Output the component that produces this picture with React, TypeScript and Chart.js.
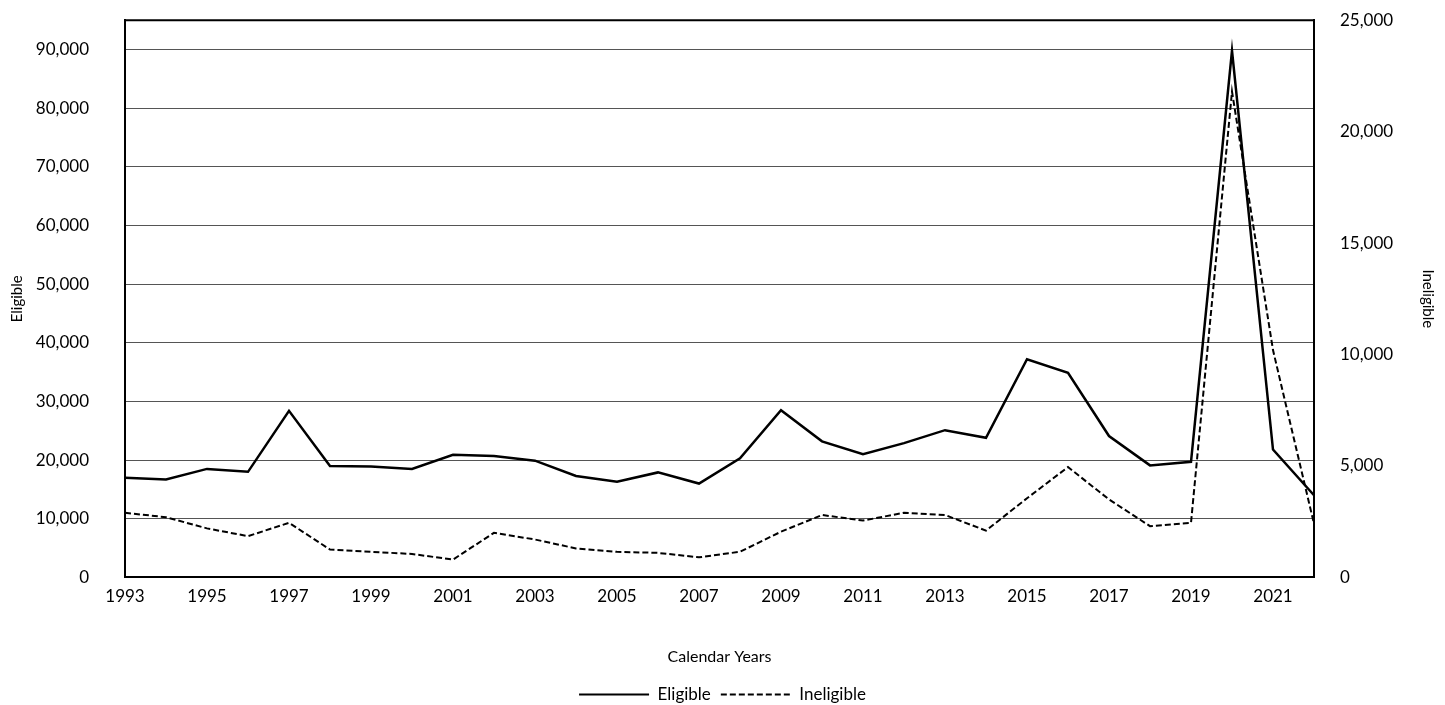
import React, { useEffect, useRef } from "react";
import { Chart, registerables } from "chart.js";
Chart.register(...registerables);

const years = Array.from({ length: 30 }, (_, i) => String(1993 + i));
const eligible = [17000, 16700, 18500, 18000, 28400, 19000, 18900, 18500, 20900, 20700, 19900, 17300, 16300, 17900, 16000, 20300, 28500, 23200, 21000, 22900, 25100, 23800, 37200, 34900, 24100, 19100, 19700, 89800, 21800, 14000];
const ineligible = [2900, 2700, 2200, 1850, 2450, 1250, 1150, 1050, 800, 2000, 1700, 1300, 1150, 1100, 900, 1150, 2050, 2800, 2550, 2900, 2800, 2100, 3550, 4950, 3500, 2300, 2450, 21800, 10200, 2400];
const leftTicks = [0, 10000, 20000, 30000, 40000, 50000, 60000, 70000, 80000, 90000];

export default function App() {
  const ref = useRef<HTMLCanvasElement>(null);
  useEffect(() => {
    const font = { family: "Lato", size: 16 };
    const c = new Chart(ref.current!, {
      type: "line",
      data: {
        labels: years,
        datasets: [
          { label: "Eligible", data: eligible, borderColor: "#000", borderWidth: 2.5, pointRadius: 0, yAxisID: "y", tension: 0 },
          { label: "Ineligible", data: ineligible, borderColor: "#000", borderWidth: 2, borderDash: [6, 3], pointRadius: 0, yAxisID: "y1", tension: 0 },
        ],
      },
      options: {
        animation: false,
        responsive: true,
        maintainAspectRatio: false,
        layout: { padding: { top: 0, left: 4, right: 4, bottom: 4 } },
        plugins: {
          legend: {
            position: "bottom",
            labels: {
              usePointStyle: true, pointStyle: "line", pointStyleWidth: 70, color: "#000", font: { family: "Lato", size: 17 }, padding: 10,
              generateLabels: (ch: any) => ch.data.datasets.map((d: any, i: number) => ({
                text: d.label, strokeStyle: "#000", fillStyle: "#000", lineWidth: 2, lineDash: d.borderDash || [],
                pointStyle: "line", datasetIndex: i, hidden: false, fontColor: "#000",
              })),
            },
          },
          tooltip: { enabled: false },
        },
        scales: {
          x: {
            offset: false,
            grid: { display: false, drawTicks: true, tickLength: 6, tickColor: "#000" },
            border: { color: "#000", width: 2 },
            ticks: { autoSkip: false, maxRotation: 0, color: "#000", font: { family: "Lato", size: 17 }, callback: (v: any, i: number) => (i % 2 === 0 ? years[i] : "") },
            title: { display: true, text: "Calendar Years", color: "#000", font, padding: { top: 37, bottom: 10 } },
          },
          y: {
            min: 0, max: 95000,
            afterBuildTicks: (s: any) => { s.ticks = leftTicks.map((v) => ({ value: v })); },
            afterFit: (s: any) => { s.width = 121; },
            ticks: { color: "#000", font: { family: "Lato", size: 17 }, padding: 36, callback: (v: any) => Number(v).toLocaleString("en-US") },
            grid: { color: "#555", drawTicks: false },
            border: { color: "#000", width: 2 },
            title: { display: true, text: "Eligible", color: "#000", font: { family: "Lato", size: 15 } },
          },
          y1: {
            position: "right", min: 0, max: 25000,
            afterFit: (s: any) => { s.width = 127; },
            ticks: { stepSize: 5000, color: "#000", font: { family: "Lato", size: 17 }, padding: 18, callback: (v: any) => Number(v).toLocaleString("en-US") },
            grid: { display: false },
            border: { color: "#000", width: 2 },
            title: { display: true, text: "Ineligible", color: "#000", font: { family: "Lato", size: 15 } },
          },
        },
      },
      plugins: [{
        id: "topBorder",
        afterDraw(ch: any) {
          const { ctx, chartArea: a } = ch;
          ctx.save(); ctx.strokeStyle = "#000"; ctx.lineWidth = 2;
          ctx.beginPath(); ctx.moveTo(a.left, a.top); ctx.lineTo(a.right, a.top); ctx.stroke();
          ctx.restore();
        },
      }],
    } as any);
    return () => c.destroy();
  }, []);
  return (
    <div style={{ position: "fixed", left: 0, top: -26, width: 1445, height: 743, background: "#fff" }}>
      <canvas ref={ref} />
    </div>
  );
}
